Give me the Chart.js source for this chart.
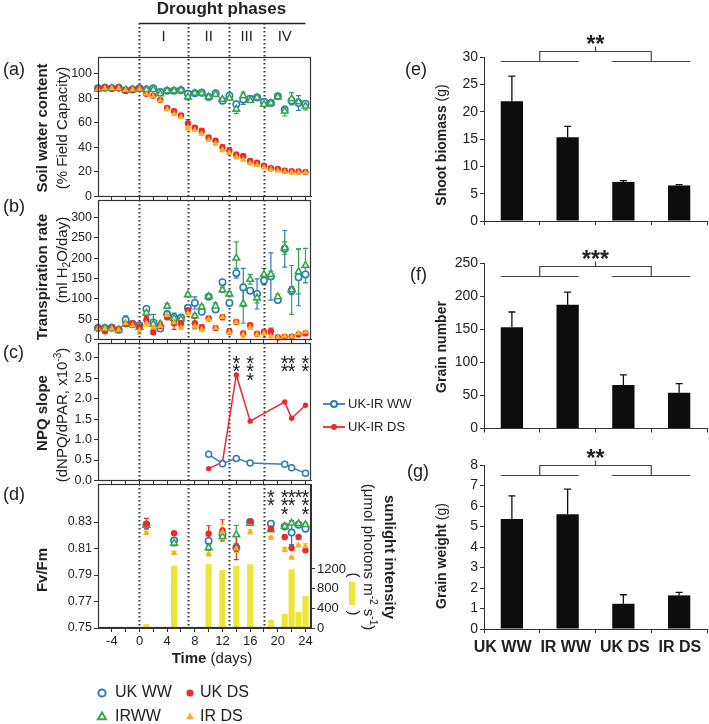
<!DOCTYPE html>
<html>
<head>
<meta charset="utf-8">
<title>Drought phases</title>
<script src="https://cdn.jsdelivr.net/npm/chart.js@4.4.1/dist/chart.umd.min.js"></script>
<style>
html, body { margin: 0; padding: 0; background: #fff; }
#page { position: relative; width: 709px; height: 724px; overflow: hidden; }
#page canvas { position: absolute; }
</style>
</head>
<body>
<div id="page">
  <canvas id="soil" width="360" height="206" style="left:0px;top:0px"></canvas>
  <canvas id="transp" width="360" height="159" style="left:0px;top:190px"></canvas>
  <canvas id="npq" width="430" height="157" style="left:0px;top:333px"></canvas>
  <canvas id="fvfm" width="400" height="250" style="left:0px;top:474px"></canvas>
  <canvas id="biomass" width="349" height="232" style="left:360px;top:0px"></canvas>
  <canvas id="grainNum" width="349" height="214" style="left:360px;top:225px"></canvas>
  <canvas id="grainWt" width="349" height="284" style="left:360px;top:440px"></canvas>
</div>
<script>
// DATA
// days relative to start of drought
const days = [-6, -5, -4, -3, -2, -1, 0, 1, 2, 3, 4, 5, 6, 7, 8, 9, 10, 11, 12, 13, 14, 15, 16, 17, 18, 19, 20, 21, 22, 23, 24];
const xTicks = [-4, -2, 0, 2, 4, 6, 8, 10, 12, 14, 16, 18, 20, 22, 24];
const phaseBounds = [0, 7, 13, 18, 24];
const phaseNames = ['I', 'II', 'III', 'IV'];

// (a) soil water content, % field capacity
const swcTicks = [0, 20, 40, 60, 80, 100];
const swcUKWW = [88, 88.5, 88, 88.5, 86.5, 87, 88, 87, 88, 85, 86, 86, 86.5, 83.5, 84, 84.5, 81, 84, 78, 82, 75, 79, 79.5, 80.5, 77, 76, 81.5, 70.5, 78, 76, 75.5];
const swcIRWW = [87.5, 88, 88, 88, 86.5, 87, 87.5, 87, 87, 83.5, 86, 86, 86.5, 81, 84, 84, 81, 83, 79, 80, 71, 82, 78, 80.5, 75, 76, 81, 69.5, 79.5, 77, 73.5];
const swcUKDS = [88, 89, 88, 88.5, 86.5, 87, 88, 83.5, 82, 78.5, 72, 69.5, 66, 59.5, 56, 53.5, 48, 45.5, 40, 37.5, 34, 33, 29, 27.5, 25, 23, 22.5, 21, 20.5, 20.3, 20];
const swcIRDS = [87.5, 88, 88, 88, 86.5, 87, 87.5, 83.5, 81.5, 78, 71, 67, 64.5, 56, 54, 51, 46, 43, 38, 35.5, 32, 30, 27, 25.5, 23.5, 22, 21, 20, 19.5, 19.5, 19.5];
const swcErrUKWW = [1, 1, 1, 1, 1, 1, 1, 1, 1, 1.5, 1, 1, 1, 2, 1.5, 2.5, 1, 1, 1, 2, 1.5, 4, 2.5, 2, 2, 1.5, 1, 2, 2, 6, 2.5];
const swcErrIRWW = [1, 1, 1, 1, 1, 1, 1, 1, 1, 1, 1, 1, 1, 2.5, 1, 1, 1, 1, 1, 1.5, 3.5, 3, 1.5, 2, 1.5, 2, 1, 4, 5, 2, 3];
const swcErrUKDS = [1, 1, 1, 1, 1, 1, 1, 1, 1, 1, 1, 1.5, 1.5, 3, 1.5, 1.5, 1.5, 1.5, 2, 2, 2, 1.5, 1.5, 1.5, 1, 1, 1, 1, 1, 1, 1];
const swcErrIRDS = [1, 1, 1, 1, 1, 1, 1, 1, 1, 1, 1, 1, 1, 2, 1, 1, 1, 1, 1.5, 1.5, 1.5, 1, 1, 1, 1, 1, 1, 1, 1, 1, 1];

// (b) transpiration rate, ml H2O/day
const trTicks = [0, 50, 100, 150, 200, 250, 300];
const trUKWW = [28, 28, 29, 24, 48, 38, 35, 75, 42, 27, 62, 55, 54, 78, 90, 68, 105, 74, 141, 90, 163, 128, 120, 112, 145, 155, 97, 223, 120, 153, 160];
const trIRWW = [28, 27, 28, 24, 38, 36, 30, 65, 38, 38, 82, 52, 50, 110, 58, 80, 106, 82, 122, 112, 200, 88, 148, 102, 160, 160, 105, 225, 122, 167, 182];
const trUKDS = [29, 20, 29, 25, 38, 40, 32, 48, 18, 33, 55, 40, 40, 72, 40, 30, 52, 28, 55, 20, 43, 15, 35, 14, 18, 20, 5, 6, 7, 12, 15];
const trIRDS = [27, 26, 27, 24, 40, 35, 22, 40, 30, 33, 60, 42, 30, 64, 33, 25, 50, 28, 55, 18, 42, 12, 30, 12, 15, 8, 5, 8, 7, 15, 18];
const trErrUKWW = [5, 4, 5, 4, 10, 5, 5, 6, 20, 5, 8, 10, 6, 5, 15, 5, 6, 5, 5, 6, 12, 47, 5, 37, 10, 58, 5, 45, 10, 70, 20];
const trErrIRWW = [4, 4, 4, 4, 6, 5, 4, 5, 5, 5, 6, 5, 5, 5, 5, 5, 5, 8, 6, 5, 40, 48, 12, 12, 15, 8, 6, 15, 60, 55, 42];
const trErrUKDS = [4, 4, 4, 4, 5, 5, 5, 8, 5, 8, 6, 15, 8, 8, 12, 6, 5, 5, 6, 6, 4, 5, 5, 3, 5, 8, 5, 6, 5, 4, 4];
const trErrIRDS = [4, 4, 4, 4, 5, 5, 8, 8, 6, 6, 6, 8, 6, 8, 8, 6, 5, 5, 5, 5, 4, 8, 5, 5, 10, 8, 4, 4, 4, 4, 4];

// (c) NPQ slope, x10^-3
const npqTicks = [0, 0.5, 1, 1.5, 2, 2.5, 3];
const npqNames = ['UK-IR WW', 'UK-IR DS'];
const npqDays = [10, 12, 14, 16, 21, 22, 24];
const npqWW = [0.64, 0.41, 0.54, 0.43, 0.40, 0.31, 0.18];
const npqDS = [0.29, 0.45, 2.58, 1.45, 1.92, 1.52, 1.84];
const npqStarDays = [14, 16, 21, 22, 24];
const npqStarCounts = [2, 3, 2, 2, 2];

// (d) Fv/Fm and sunlight
const fvTicks = [0.75, 0.77, 0.79, 0.81, 0.83];
const sunTicks = [0, 400, 800, 1200];
const fvDays = [1, 5, 10, 12, 14, 16, 19, 21, 22, 23, 24];
const fvUKWW = [0.828, 0.816, 0.8157, 0.8207, 0.8106, 0.830, 0.8287, 0.8267, 0.822, 0.828, 0.825];
const fvIRWW = [0.8275, 0.814, 0.8106, 0.819, 0.8204, 0.829, 0.8242, 0.8267, 0.8292, 0.8287, 0.828];
const fvUKDS = [0.8287, 0.8215, 0.8212, 0.8237, 0.8106, 0.8305, 0.825, 0.8187, 0.8104, 0.8187, 0.8086];
const fvIRDS = [0.8217, 0.8066, 0.8056, 0.8225, 0.810, 0.8225, 0.8182, 0.8091, 0.8031, 0.8124, 0.8116];
const fvErrUKWW = [0.002, 0.002, 0.002, 0.002, 0.003, 0.001, 0.001, 0.001, 0.009, 0.001, 0.001];
const fvErrIRWW = [0.002, 0.002, 0.002, 0.003, 0.007, 0.001, 0.001, 0.001, 0.001, 0.001, 0.001];
const fvErrUKDS = [0.004, 0.001, 0.006, 0.008, 0.009, 0.001, 0.001, 0.001, 0.001, 0.001, 0.001];
const fvErrIRDS = [0.001, 0.001, 0.001, 0.006, 0.003, 0.0015, 0.001, 0.0015, 0.001, 0.001, 0.002];
const sunlight = [75, 1261, 1295, 1173, 1254, 1288, 156, 278, 1186, 319, 644];
const fvStarDays = [19, 21, 22, 23, 24];
const fvStarCounts = [2, 3, 2, 1, 3];
const legendNames = ['UK WW', 'UK DS', 'IRWW', 'IR DS'];

// (e)-(g) harvest traits
const groups = ['UK WW', 'IR WW', 'UK DS', 'IR DS'];
const biomassTicks = [0, 5, 10, 15, 20, 25, 30];
const shootBiomass = [21.9, 15.3, 7.15, 6.5];
const shootBiomassErr = [4.6, 2.0, 0.25, 0.15];
const grainNumTicks = [0, 50, 100, 150, 200, 250];
const grainNumber = [153, 187, 66, 54];
const grainNumberErr = [23, 19, 15, 14];
const grainWtTicks = [0, 1, 2, 3, 4, 5, 6, 7, 8];
const grainWeight = [5.37, 5.6, 1.23, 1.64];
const grainWeightErr = [1.12, 1.22, 0.44, 0.15];

// STYLE
const FONT = 'Arial, "Liberation Sans", Helvetica, sans-serif';
const INK = '#222';
const AXIS = '#333';
const BLUE = '#2d7bb8';
const GREEN = '#36a64a';
const RED = '#ec2a2a';
const ORANGE = '#f6b320';
const SUN = '#eee637';

Chart.defaults.font.family = FONT;
Chart.defaults.color = INK;
Chart.defaults.animation = false;

const f = (size, bold) => (bold ? 'bold ' : '') + size + 'px ' + FONT;

const STYLE = {
    ukWW: { pointStyle: 'circle', pointRadius: 3.2, pointBorderWidth: 1.6, pointBorderColor: BLUE, pointBackgroundColor: '#fff', borderColor: BLUE, order: 3 },
    irWW: { pointStyle: 'triangle', pointRadius: 3.8, pointBorderWidth: 1.6, pointBorderColor: GREEN, pointBackgroundColor: '#fff', borderColor: GREEN, order: 2 },
    ukDS: { pointStyle: 'circle', pointRadius: 3.2, pointBorderWidth: 0, pointBackgroundColor: RED, borderColor: RED, order: 1 },
    irDS: { pointStyle: 'triangle', pointRadius: 3.8, pointBorderWidth: 0, pointBackgroundColor: ORANGE, borderColor: ORANGE, order: 0 }
};

function series(key, xs, ys, errs) {
    return Object.assign({
        type: 'line',
        showLine: false,
        clip: false,
        yAxisID: 'y',
        data: xs.map((x, i) => ({ x: x, y: ys[i] })),
        errors: errs
    }, STYLE[key]);
}

// error bars from dataset.errors
const errorBars = {
    id: 'errorBars',
    beforeDatasetsDraw(chart) {
        const ctx = chart.ctx;
        chart.data.datasets.forEach((ds, i) => {
            if (!ds.errors) return;
            const meta = chart.getDatasetMeta(i);
            const ys = chart.scales[meta.yAxisID];
            ctx.save();
            ctx.strokeStyle = ds.errorColor || ds.borderColor;
            ctx.lineWidth = ds.errorWidth || 1.2;
            meta.data.forEach((pt, j) => {
                const e = ds.errors[j];
                if (!e) return;
                const raw = ds.data[j];
                const v = typeof raw === 'object' ? raw.y : raw;
                const top = ys.getPixelForValue(v + e);
                const bot = ys.getPixelForValue(ds.errorUpOnly ? v : v - e);
                const cap = ds.errorCap || 2.5;
                ctx.beginPath();
                ctx.moveTo(pt.x, top);
                ctx.lineTo(pt.x, bot);
                ctx.moveTo(pt.x - cap, top);
                ctx.lineTo(pt.x + cap, top);
                if (!ds.errorUpOnly) {
                    ctx.moveTo(pt.x - cap, bot);
                    ctx.lineTo(pt.x + cap, bot);
                }
                ctx.stroke();
            });
            ctx.restore();
        });
    }
};
Chart.register(errorBars);

// dotted phase lines + closed box round the plot
function panelFrame(lineTop) {
    return {
        id: 'panelFrame',
        beforeDatasetsDraw(chart) {
            const { ctx, chartArea: a, scales: { x } } = chart;
            ctx.save();
            ctx.strokeStyle = '#333';
            ctx.lineWidth = 2;
            ctx.setLineDash([1.5, 2.5]);
            phaseBounds.slice(0, -1).forEach(d => {
                const px = Math.round(x.getPixelForValue(d)) + 0.5;
                ctx.beginPath();
                ctx.moveTo(px, lineTop === undefined ? a.top : lineTop);
                ctx.lineTo(px, a.bottom);
                ctx.stroke();
            });
            ctx.restore();
        },
        afterDraw(chart) {
            const { ctx, chartArea: a } = chart;
            ctx.save();
            ctx.strokeStyle = AXIS;
            ctx.lineWidth = 1.2;
            ctx.strokeRect(Math.round(a.left) + 0.5, Math.round(a.top) + 0.5, Math.round(a.width) - 1, Math.round(a.height) - 1);
            ctx.restore();
        }
    };
}

function notes(draw) {
    return { id: 'notes', afterDraw: chart => draw(chart.ctx, chart) };
}

// parts: [text, font, dy]
function label(ctx, parts, x, y, rot, align) {
    ctx.save();
    ctx.translate(x, y);
    if (rot) ctx.rotate(rot);
    let w = 0;
    parts.forEach(p => { ctx.font = p[1]; w += ctx.measureText(p[0]).width; });
    let cx = align === 'left' ? 0 : -w / 2;
    ctx.textBaseline = 'middle';
    ctx.textAlign = 'left';
    ctx.fillStyle = INK;
    parts.forEach(p => {
        ctx.font = p[1];
        ctx.fillText(p[0], cx, p[2] || 0);
        cx += ctx.measureText(p[0]).width;
    });
    ctx.restore();
}

function marker(ctx, shape, x, y, r, color, filled) {
    ctx.save();
    ctx.beginPath();
    if (shape === 'circle') {
        ctx.arc(x, y, r, 0, Math.PI * 2);
    } else {
        for (let k = 0; k < 3; k++) {
            const ang = k * 2 * Math.PI / 3;
            const px = x + Math.sin(ang) * r, py = y - Math.cos(ang) * r;
            if (k === 0) ctx.moveTo(px, py); else ctx.lineTo(px, py);
        }
        ctx.closePath();
    }
    if (filled) {
        ctx.fillStyle = color;
        ctx.fill();
    } else {
        ctx.fillStyle = '#fff';
        ctx.fill();
        ctx.strokeStyle = color;
        ctx.lineWidth = 2;
        ctx.stroke();
    }
    ctx.restore();
}

function drawStars(ctx, chart, starDays, counts, y0) {
    const x = chart.scales.x;
    ctx.save();
    ctx.font = f(20);
    ctx.fillStyle = INK;
    ctx.textAlign = 'center';
    ctx.textBaseline = 'alphabetic';
    starDays.forEach((d, i) => {
        for (let k = 0; k < counts[i]; k++) {
            ctx.fillText('*', x.getPixelForValue(d), y0 + k * 8.3 + 11);
        }
    });
    ctx.restore();
}

function timeAxis(showLabels, height) {
    return {
        type: 'linear',
        min: -6,
        max: 24.8,
        offset: false,
        afterBuildTicks: s => { s.ticks = xTicks.map(v => ({ value: v })); },
        afterFit: s => { s.height = height; },
        grid: { display: true, drawOnChartArea: false, drawTicks: true, tickLength: 4, color: AXIS, offset: false },
        border: { color: AXIS },
        ticks: {
            display: showLabels, autoSkip: false, maxRotation: 0, padding: 2,
            font: { size: 13 }, color: INK,
            callback: v => (v % 4 === 0 ? v : '')
        }
    };
}

function valueAxis(min, max, vals, fmt, width, position, fontSize) {
    return {
        type: 'linear',
        position: position || 'left',
        min: min,
        max: max,
        afterBuildTicks: s => { s.ticks = vals.map(v => ({ value: v })); },
        afterFit: s => { s.width = width; },
        grid: { display: true, drawOnChartArea: false, tickLength: 4, color: AXIS },
        border: { color: AXIS },
        ticks: { padding: 2, font: { size: fontSize || 12.5 }, color: INK, callback: fmt }
    };
}

function baseOptions(padding, scales) {
    return {
        responsive: false,
        animation: false,
        layout: { autoPadding: false, padding: padding },
        plugins: { legend: { display: false }, tooltip: { enabled: false } },
        scales: scales
    };
}

// (a) SOIL WATER CONTENT
new Chart(document.getElementById('soil'), {
    type: 'line',
    data: {
        datasets: [
            series('ukWW', days, swcUKWW, swcErrUKWW),
            series('irWW', days, swcIRWW, swcErrIRWW),
            series('ukDS', days, swcUKDS, swcErrUKDS),
            series('irDS', days, swcIRDS, swcErrIRDS)
        ]
    },
    options: baseOptions({ top: 57, right: 49, left: 0, bottom: 0 }, {
        x: timeAxis(false, 6),
        y: valueAxis(0, 113.5, swcTicks, v => v, 98)
    }),
    plugins: [panelFrame(23), notes((ctx, chart) => {
        const x = chart.scales.x;
        const x0 = x.getPixelForValue(phaseBounds[0]);
        const x1 = x.getPixelForValue(phaseBounds[phaseBounds.length - 1]);
        label(ctx, [['(a)', f(18)]], 3, 70, 0, 'left');
        label(ctx, [['Drought phases', f(17, true)]], (x0 + x1) / 2 - 1, 9);
        ctx.save();
        ctx.strokeStyle = INK;
        ctx.lineWidth = 1.3;
        ctx.beginPath();
        ctx.moveTo(x0, 23.5);
        ctx.lineTo(x1, 23.5);
        ctx.stroke();
        ctx.restore();
        phaseNames.forEach((n, i) => {
            label(ctx, [[n, f(15)]], x.getPixelForValue((phaseBounds[i] + phaseBounds[i + 1]) / 2), 37);
        });
        label(ctx, [['Soil water content', f(15, true)]], 43, 128, -Math.PI / 2);
        label(ctx, [['(% Field Capacity)', f(15)]], 63, 128, -Math.PI / 2);
    })]
});

// (b) TRANSPIRATION
new Chart(document.getElementById('transp'), {
    type: 'line',
    data: {
        datasets: [
            series('ukWW', days, trUKWW, trErrUKWW),
            series('irWW', days, trIRWW, trErrIRWW),
            series('ukDS', days, trUKDS, trErrUKDS),
            series('irDS', days, trIRDS, trErrIRDS)
        ]
    },
    options: baseOptions({ top: 10, right: 49, left: 0, bottom: 0 }, {
        x: timeAxis(false, 6),
        y: valueAxis(0, 343, trTicks, v => v, 98)
    }),
    plugins: [panelFrame(), notes(ctx => {
        label(ctx, [['(b)', f(18)]], 3, 17, 0, 'left');
        label(ctx, [['Transpiration rate', f(15, true)]], 43, 87, -Math.PI / 2);
        label(ctx, [['(ml H', f(15)], ['2', f(10), 4], ['O/day)', f(15)]], 63, 70, -Math.PI / 2);
    })]
});

// (c) NPQ SLOPE
new Chart(document.getElementById('npq'), {
    type: 'line',
    data: {
        datasets: [
            {
                data: npqDays.map((d, i) => ({ x: d, y: npqWW[i] })),
                borderColor: '#3b7fbe', borderWidth: 1.5, tension: 0, clip: false,
                pointStyle: 'circle', pointRadius: 3, pointBorderWidth: 1.5,
                pointBorderColor: BLUE, pointBackgroundColor: '#fff', order: 0
            },
            {
                data: npqDays.map((d, i) => ({ x: d, y: npqDS[i] })),
                borderColor: RED, borderWidth: 1.5, tension: 0, clip: false,
                pointStyle: 'circle', pointRadius: 2.7, pointBorderWidth: 0,
                pointBackgroundColor: RED, order: 1
            }
        ]
    },
    options: baseOptions({ top: 10, right: 119, left: 0, bottom: 0 }, {
        x: timeAxis(false, 6),
        y: valueAxis(0, 3.36, npqTicks, v => v.toFixed(1), 98)
    }),
    plugins: [panelFrame(), notes((ctx, chart) => {
        label(ctx, [['(c)', f(18)]], 3, 20, 0, 'left');
        label(ctx, [['NPQ slope', f(15, true)]], 43, 80, -Math.PI / 2);
        label(ctx, [['(dNPQ/dPAR, x10', f(15)], ['-3', f(10), -5], [')', f(15)]], 63, 82, -Math.PI / 2);
        drawStars(ctx, chart, npqStarDays, npqStarCounts, chart.chartArea.top + 16);
        [[BLUE, false, 71], [RED, true, 94]].forEach((s, i) => {
            ctx.save();
            ctx.strokeStyle = i === 0 ? '#3b7fbe' : RED;
            ctx.lineWidth = 1.8;
            ctx.beginPath();
            ctx.moveTo(323, s[2]);
            ctx.lineTo(345, s[2]);
            ctx.stroke();
            ctx.restore();
            marker(ctx, 'circle', 334, s[2], 3, s[0], s[1]);
            label(ctx, [[npqNames[i], f(13)]], 348, s[2], 0, 'left');
        });
    })]
});

// (d) FV/FM + SUNLIGHT
new Chart(document.getElementById('fvfm'), {
    type: 'line',
    data: {
        datasets: [
            series('ukWW', fvDays, fvUKWW, fvErrUKWW),
            series('irWW', fvDays, fvIRWW, fvErrIRWW),
            series('ukDS', fvDays, fvUKDS, fvErrUKDS),
            series('irDS', fvDays, fvIRDS, fvErrIRDS),
            {
                type: 'bar', yAxisID: 'y2',
                data: fvDays.map((d, i) => ({ x: d, y: sunlight[i] })),
                backgroundColor: SUN, barThickness: 5.5, order: 10
            }
        ]
    },
    options: baseOptions({ top: 10, right: 0, left: 0, bottom: 66 }, {
        x: timeAxis(true, 30),
        y: valueAxis(0.75, 0.8587, fvTicks, v => v.toFixed(2), 98),
        y2: valueAxis(0, 2925, sunTicks, v => v, 89, 'right', 13)
    }),
    plugins: [panelFrame(), notes((ctx, chart) => {
        label(ctx, [['(d)', f(18)]], 3, 21, 0, 'left');
        label(ctx, [['Fv/Fm', f(15, true)]], 43, 96, -Math.PI / 2);
        drawStars(ctx, chart, fvStarDays, fvStarCounts, chart.chartArea.top + 9);
        label(ctx, [['sunlight intensity', f(15, true)]], 389, 83, Math.PI / 2);
        label(ctx, [['(\u03bcmol photons m', f(15)], ['-2', f(10), -5], [' s', f(15)], ['-1', f(10), -5], [')', f(15)]], 368, 83, Math.PI / 2);
        label(ctx, [['(', f(15)]], 353, 101, Math.PI / 2);
        label(ctx, [[')', f(15)]], 353, 139, Math.PI / 2);
        ctx.save();
        ctx.fillStyle = SUN;
        ctx.fillRect(349, 108, 6, 23);
        ctx.restore();
        label(ctx, [['Time', f(15, true)], [' (days)', f(15)]], 212, 185);
        const items = [['circle', BLUE, false], ['circle', RED, true], ['triangle', GREEN, false], ['triangle', ORANGE, true]];
        items.forEach((it, i) => {
            const mx = i % 2 === 0 ? 102 : 190;
            const my = i < 2 ? 219 : 243;
            marker(ctx, it[0], mx, my, it[0] === 'circle' ? 3.6 : 4.6, it[1], it[2]);
            label(ctx, [[legendNames[i], f(16)]], i % 2 === 0 ? 115 : 200, my, 0, 'left');
        });
    })]
});

// (e)-(g) BAR PANELS
function drawSignificance(ctx, chart, level, stars) {
    const y = chart.scales.y;
    const bars = chart.getDatasetMeta(0).data;
    const half = bars[0].width / 2;
    const yl = Math.round(y.getPixelForValue(level)) + 0.5;
    const yb = yl - 10, yt = yb - 5;
    const m1 = (bars[0].x + bars[1].x) / 2, m2 = (bars[2].x + bars[3].x) / 2, mc = (m1 + m2) / 2;
    ctx.save();
    ctx.strokeStyle = '#444';
    ctx.lineWidth = 1.2;
    ctx.beginPath();
    ctx.moveTo(bars[0].x - half, yl); ctx.lineTo(bars[1].x + half, yl);
    ctx.moveTo(bars[2].x - half, yl); ctx.lineTo(bars[3].x + half, yl);
    ctx.moveTo(m1, yl); ctx.lineTo(m1, yb); ctx.lineTo(m2, yb); ctx.lineTo(m2, yl);
    ctx.moveTo(mc, yb); ctx.lineTo(mc, yt);
    ctx.stroke();
    ctx.font = f(23, true);
    ctx.fillStyle = INK;
    ctx.textAlign = 'center';
    ctx.textBaseline = 'alphabetic';
    ctx.fillText(stars, mc, yt - 7 + 12.5);
    ctx.restore();
}

function traitChart(id, values, errs, yMax, yTicks, padding, xHeight, showNames, sig, annotate) {
    return new Chart(document.getElementById(id), {
        type: 'bar',
        data: {
            labels: groups,
            datasets: [{
                data: values, errors: errs, errorUpOnly: true, errorCap: 3.5,
                borderColor: '#111', errorColor: '#111', errorWidth: 1.3,
                backgroundColor: '#0d0d0d', barPercentage: 0.4, categoryPercentage: 1
            }]
        },
        options: baseOptions(padding, {
            x: {
                type: 'category', offset: true,
                afterFit: s => { s.height = xHeight; },
                grid: { display: true, offset: true, drawOnChartArea: false, tickLength: 4, color: AXIS },
                border: { color: AXIS },
                ticks: { display: false }
            },
            y: valueAxis(0, yMax, yTicks, v => v, 124, 'left', 14)
        }),
        plugins: [notes((ctx, chart) => {
            drawSignificance(ctx, chart, sig[0], sig[1]);
            if (showNames) {
                // group names run as one line under the axis
                const a = chart.chartArea;
                label(ctx, [[groups.join('  '), f(16, true)]], (a.left + a.right) / 2 - 8, a.bottom + 19);
            }
            annotate(ctx);
        })]
    });
}

traitChart('biomass', shootBiomass, shootBiomassErr, 30, biomassTicks,
    { top: 57, right: 2, left: 0, bottom: 0 }, 11, false, [29.3, '**'], ctx => {
        label(ctx, [['(e)', f(18)]], 45, 70, 0, 'left');
        label(ctx, [['Shoot biomass', f(14, true)], [' (g)', f(14)]], 82, 145, -Math.PI / 2);
    });

traitChart('grainNum', grainNumber, grainNumberErr, 250, grainNumTicks,
    { top: 38, right: 2, left: 0, bottom: 0 }, 10, false, [231, '***'], ctx => {
        label(ctx, [['(f)', f(18)]], 50, 50, 0, 'left');
        label(ctx, [['Grain number', f(14, true)]], 82, 122, -Math.PI / 2);
    });

traitChart('grainWt', grainWeight, grainWeightErr, 8, grainWtTicks,
    { top: 25, right: 2, left: 0, bottom: 55 }, 40, true, [7.5, '**'], ctx => {
        label(ctx, [['(g)', f(18)]], 47, 32, 0, 'left');
        label(ctx, [['Grain weight', f(14, true)], [' (g)', f(14)]], 82, 116, -Math.PI / 2);
    });
</script>
</body>
</html>
